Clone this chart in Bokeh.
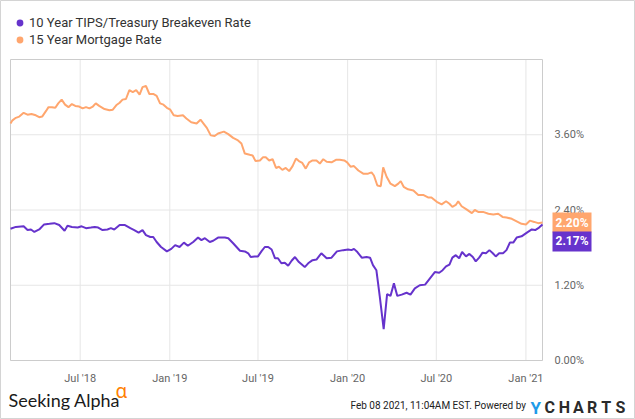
import pandas as pd
from bokeh.plotting import figure
from bokeh.models import (FixedTicker, PrintfTickFormatter, DatetimeTickFormatter,
                          Legend, LegendItem, Label, Range1d)
from bokeh.embed import file_html
from bokeh.resources import INLINE

# ---------------- data ----------------
mortgage_dates = [
    "2018-02-08", "2018-02-12", "2018-02-19", "2018-02-26", "2018-03-07", "2018-03-15",
    "2018-03-23", "2018-04-01", "2018-04-08", "2018-04-14", "2018-04-22", "2018-04-27",
    "2018-05-04", "2018-05-11", "2018-05-17", "2018-05-24", "2018-05-31", "2018-06-07",
    "2018-06-14", "2018-06-21", "2018-06-29", "2018-07-06", "2018-07-13", "2018-07-20",
    "2018-07-27", "2018-08-02", "2018-08-09", "2018-08-20", "2018-08-30", "2018-09-06",
    "2018-09-13", "2018-09-20", "2018-09-26", "2018-10-03", "2018-10-10", "2018-10-17",
    "2018-10-24", "2018-10-31", "2018-11-06", "2018-11-13", "2018-11-20", "2018-11-28",
    "2018-12-05", "2018-12-12", "2018-12-19", "2018-12-26", "2019-01-02", "2019-01-09",
    "2019-01-17", "2019-01-28", "2019-02-04", "2019-02-14", "2019-02-25", "2019-03-05",
    "2019-03-12", "2019-03-18", "2019-03-26", "2019-04-03", "2019-04-10", "2019-04-22",
    "2019-05-01", "2019-05-11", "2019-05-21", "2019-05-28", "2019-06-04", "2019-06-14",
    "2019-06-20", "2019-06-26", "2019-07-05", "2019-07-11", "2019-07-17", "2019-07-24",
    "2019-07-31", "2019-08-07", "2019-08-13", "2019-08-20", "2019-08-27", "2019-09-03",
    "2019-09-10", "2019-09-17", "2019-09-23", "2019-09-30", "2019-10-07", "2019-10-14",
    "2019-10-21", "2019-10-29", "2019-11-05", "2019-11-12", "2019-11-19", "2019-11-29",
    "2019-12-08", "2019-12-16", "2019-12-25", "2019-12-31", "2020-01-07", "2020-01-14",
    "2020-01-23", "2020-02-02", "2020-02-12", "2020-02-19", "2020-02-24", "2020-03-02",
    "2020-03-09", "2020-03-14", "2020-03-21", "2020-03-29", "2020-04-07", "2020-04-14",
    "2020-04-19", "2020-04-25", "2020-05-04", "2020-05-15", "2020-05-25", "2020-06-04",
    "2020-06-14", "2020-06-21", "2020-07-02", "2020-07-12", "2020-07-21", "2020-07-28",
    "2020-08-03", "2020-08-10", "2020-08-15", "2020-08-22", "2020-09-01", "2020-09-12",
    "2020-09-18", "2020-09-25", "2020-10-05", "2020-10-16", "2020-10-26", "2020-11-05",
    "2020-11-14", "2020-11-22", "2020-12-03", "2020-12-13", "2020-12-23", "2021-01-01",
    "2021-01-09", "2021-01-18", "2021-01-26", "2021-02-04",
]
mortgage_values = [
    3.78, 3.83, 3.87, 3.89, 3.95, 3.92, 3.93, 3.91, 3.88, 3.89, 3.98, 4.04,
    4.04, 4.03, 4.10, 4.16, 4.08, 4.04, 4.09, 4.06, 4.05, 4.02, 4.04, 4.02,
    4.05, 4.10, 4.06, 4.01, 3.99, 4.00, 4.07, 4.11, 4.16, 4.17, 4.31, 4.28,
    4.31, 4.24, 4.36, 4.38, 4.25, 4.25, 4.22, 4.10, 4.08, 4.03, 4.00, 3.91,
    3.90, 3.91, 3.86, 3.80, 3.78, 3.84, 3.77, 3.71, 3.59, 3.58, 3.62, 3.65,
    3.61, 3.55, 3.51, 3.46, 3.30, 3.28, 3.27, 3.18, 3.19, 3.24, 3.24, 3.19,
    3.21, 3.07, 3.09, 3.04, 3.07, 3.02, 3.10, 3.22, 3.18, 3.15, 3.06, 3.16,
    3.19, 3.19, 3.14, 3.21, 3.17, 3.16, 3.20, 3.20, 3.19, 3.16, 3.09, 3.10,
    3.03, 2.98, 2.98, 3.00, 2.95, 2.79, 2.78, 3.08, 2.93, 2.82, 2.78, 2.82,
    2.86, 2.77, 2.73, 2.71, 2.64, 2.64, 2.60, 2.60, 2.53, 2.49, 2.54, 2.50,
    2.45, 2.48, 2.54, 2.46, 2.41, 2.35, 2.40, 2.37, 2.37, 2.34, 2.33, 2.34,
    2.29, 2.28, 2.26, 2.22, 2.18, 2.17, 2.23, 2.21, 2.19, 2.20,
]

breakeven_dates = [
    "2018-02-08", "2018-02-19", "2018-03-07", "2018-03-15", "2018-03-22", "2018-03-29",
    "2018-04-08", "2018-04-18", "2018-04-29", "2018-05-09", "2018-05-19", "2018-05-30",
    "2018-06-05", "2018-06-14", "2018-06-26", "2018-07-04", "2018-07-13", "2018-07-23",
    "2018-07-31", "2018-08-07", "2018-08-16", "2018-08-26", "2018-09-02", "2018-09-09",
    "2018-09-20", "2018-10-01", "2018-10-12", "2018-10-20", "2018-10-29", "2018-11-06",
    "2018-11-13", "2018-11-22", "2018-11-28", "2018-12-05", "2018-12-14", "2018-12-26",
    "2019-01-04", "2019-01-12", "2019-01-21", "2019-01-30", "2019-02-07", "2019-02-18",
    "2019-02-28", "2019-03-07", "2019-03-14", "2019-03-24", "2019-03-31", "2019-04-10",
    "2019-04-24", "2019-05-01", "2019-05-11", "2019-05-25", "2019-06-04", "2019-06-11",
    "2019-06-16", "2019-06-24", "2019-07-01", "2019-07-08", "2019-07-15", "2019-07-22",
    "2019-07-29", "2019-08-05", "2019-08-11", "2019-08-18", "2019-08-25", "2019-09-01",
    "2019-09-08", "2019-09-15", "2019-09-23", "2019-10-05", "2019-10-12", "2019-10-21",
    "2019-10-29", "2019-11-08", "2019-11-19", "2019-11-29", "2019-12-10", "2019-12-23",
    "2020-01-02", "2020-01-09", "2020-01-14", "2020-01-21", "2020-01-30", "2020-02-09",
    "2020-02-16", "2020-02-22", "2020-02-29", "2020-03-07", "2020-03-15", "2020-03-22",
    "2020-03-29", "2020-04-05", "2020-04-12", "2020-04-21", "2020-05-01", "2020-05-09",
    "2020-05-18", "2020-05-28", "2020-06-08", "2020-06-18", "2020-06-28", "2020-07-07",
    "2020-07-14", "2020-07-21", "2020-07-28", "2020-08-03", "2020-08-10", "2020-08-17",
    "2020-08-23", "2020-08-31", "2020-09-07", "2020-09-14", "2020-09-20", "2020-09-27",
    "2020-10-04", "2020-10-11", "2020-10-18", "2020-10-25", "2020-10-31", "2020-11-07",
    "2020-11-15", "2020-11-22", "2020-11-29", "2020-12-06", "2020-12-13", "2020-12-23",
    "2021-01-03", "2021-01-13", "2021-01-20", "2021-01-28", "2021-02-04",
]
breakeven_values = [
    2.10, 2.13, 2.14, 2.08, 2.09, 2.05, 2.09, 2.17, 2.18, 2.19, 2.16, 2.07,
    2.15, 2.13, 2.12, 2.14, 2.11, 2.12, 2.13, 2.12, 2.08, 2.09, 2.11, 2.09,
    2.16, 2.16, 2.11, 2.08, 2.04, 2.08, 2.00, 1.97, 1.97, 1.89, 1.81, 1.74,
    1.78, 1.84, 1.81, 1.88, 1.83, 1.89, 1.96, 1.92, 1.95, 1.89, 1.91, 1.96,
    1.96, 1.95, 1.87, 1.75, 1.74, 1.71, 1.65, 1.66, 1.66, 1.74, 1.81, 1.81,
    1.77, 1.63, 1.63, 1.55, 1.56, 1.51, 1.59, 1.65, 1.57, 1.49, 1.55, 1.60,
    1.61, 1.71, 1.63, 1.64, 1.74, 1.76, 1.77, 1.76, 1.78, 1.73, 1.64, 1.65,
    1.64, 1.52, 1.44, 1.02, 0.50, 1.06, 1.03, 1.23, 1.03, 1.05, 1.08, 1.05,
    1.15, 1.20, 1.21, 1.31, 1.41, 1.40, 1.44, 1.50, 1.53, 1.64, 1.68, 1.63,
    1.73, 1.66, 1.70, 1.65, 1.58, 1.64, 1.72, 1.71, 1.76, 1.71, 1.66, 1.71,
    1.71, 1.76, 1.88, 1.88, 1.96, 1.98, 2.04, 2.09, 2.08, 2.12, 2.17,
]

series_names = ["10 Year TIPS/Treasury Breakeven Rate", "15 Year Mortgage Rate"]
x_tick_dates = ["2018-07-01", "2019-01-01", "2019-07-01", "2020-01-01", "2020-07-01", "2021-01-01"]
y_ticks = [0.0, 1.2, 2.4, 3.6]
y_max = 4.8
footer_text = "Feb 08 2021, 11:04AM EST.  Powered by"

# ---------------- layout / styling ----------------
W, H = 635, 419
BOX_L, BOX_R, BOX_T, BOX_B = 10, 542, 59, 360   # pixel box of the plot area
PURPLE = "#6633cc"
ORANGE = "#ffa66e"
GRID = "#e6e6e6"
AXIS_TEXT = "#666666"

m_dates = pd.to_datetime(mortgage_dates)
b_dates = pd.to_datetime(breakeven_dates)
t0, t1 = m_dates[0], m_dates[-1]
span = t1 - t0
x_start = t0 - span * (BOX_L / (BOX_R - BOX_L))
x_end = t1 + span * ((W - BOX_R) / (BOX_R - BOX_L))
y_start = -y_max * (H - BOX_B) / (BOX_B - BOX_T)
y_end = y_max + y_max * BOX_T / (BOX_B - BOX_T)

p = figure(width=W, height=H, x_axis_type="datetime", y_axis_location="right",
           output_backend="svg", toolbar_location=None,
           x_range=Range1d(x_start, x_end), y_range=Range1d(y_start, y_end),
           min_border=0, min_border_left=0, min_border_right=0,
           min_border_top=0, min_border_bottom=0)
p.outline_line_color = "#d4d4d4"
p.background_fill_color = "white"
p.border_fill_color = "white"
p.grid.visible = False

tick_ms = [pd.Timestamp(d).value / 1e6 for d in x_tick_dates]
p.xaxis.ticker = FixedTicker(ticks=tick_ms)
fmt = "%b '%y"
p.xaxis.formatter = DatetimeTickFormatter(months=fmt, days=fmt, years=fmt, hours=fmt,
                                          minutes=fmt, seconds=fmt, milliseconds=fmt,
                                          microseconds=fmt, minsec=fmt, hourmin=fmt)
p.yaxis.ticker = FixedTicker(ticks=y_ticks)
p.yaxis.formatter = PrintfTickFormatter(format="%.2f%%")
p.xaxis.fixed_location = 0
p.yaxis.fixed_location = t1.value / 1e6

for ax in (p.xaxis[0], p.yaxis[0]):
    ax.axis_line_color = None
    ax.major_tick_line_color = None
    ax.minor_tick_line_color = None
    ax.major_label_text_font = "Roboto"
    ax.major_label_text_font_size = "11px"
    ax.major_label_text_color = AXIS_TEXT
p.xaxis.major_label_standoff = 5
p.yaxis.major_label_standoff = 6

# grid lines limited to the plot box (from the tick arrays)
tick_dates = pd.to_datetime(x_tick_dates)
p.segment(x0=tick_dates, y0=[0] * len(tick_dates), x1=tick_dates, y1=[y_max] * len(tick_dates),
          line_color=GRID, line_width=1)
p.segment(x0=[t0] * len(y_ticks), y0=y_ticks, x1=[t1] * len(y_ticks), y1=y_ticks,
          line_color=GRID, line_width=1)
# plot box border
p.quad(left=[t0], right=[t1], bottom=[0], top=[y_max], fill_color=None,
       line_color="#cccccc", line_width=1)

# lines
p.line(m_dates, mortgage_values, line_color=ORANGE, line_width=2)
p.line(b_dates, breakeven_values, line_color=PURPLE, line_width=2)

# legend swatches: zero-size markers on each series' last point (invisible on the chart,
# the legend draws its own circle)
r_b = p.scatter(x=[b_dates[-1]], y=[breakeven_values[-1]], marker="circle", size=0,
                fill_color=PURPLE, line_color=None)
r_m = p.scatter(x=[t1], y=[mortgage_values[-1]], marker="circle", size=0,
                fill_color=ORANGE, line_color=None)
legend = Legend(items=[LegendItem(label=series_names[0], renderers=[r_b]),
                       LegendItem(label=series_names[1], renderers=[r_m])],
                location=(11, H - 14 - 34), orientation="vertical",
                border_line_color=None, background_fill_alpha=0,
                padding=0, spacing=0, margin=0,
                glyph_width=17, glyph_height=17, label_height=17, label_standoff=1,
                label_text_font="Roboto", label_text_font_size="13px",
                label_text_color="#333333", label_text_baseline="middle")
p.add_layout(legend)

# end-value tags: a rotated square gives the arrow tip, the text box sits right of it
def add_tag(x, y, txt, color, y_off):
    p.add_layout(Label(x=x, y=y, x_offset=7, y_offset=y_off, text=".", text_alpha=0,
                       text_font_size="1px", text_align="center", text_baseline="middle",
                       background_fill_color=color, padding=6, angle=45, angle_units="deg"))
    p.add_layout(Label(x=x, y=y, x_offset=10, y_offset=y_off, text=txt, text_color="white",
                       text_font="Roboto", text_font_style="bold", text_font_size="12px",
                       text_align="left", text_baseline="middle",
                       background_fill_color=color, padding=3))

add_tag(t1, mortgage_values[-1], f"{mortgage_values[-1]:.2f}%", ORANGE, 0)
add_tag(b_dates[-1], breakeven_values[-1], f"{breakeven_values[-1]:.2f}%", PURPLE, -17)

# footer (screen units from the bottom-left corner)
p.add_layout(Label(x=8, y=H - 399, x_units="screen", y_units="screen", text="Seeking Alpha",
                   text_font="Lato", text_font_size="18px", text_color="#1a1a1a",
                   text_baseline="alphabetic"))
p.add_layout(Label(x=115, y=H - 390, x_units="screen", y_units="screen", text="\u03b1",
                   text_font="Noto Sans", text_font_size="19px", text_color="#ff8000",
                   text_baseline="alphabetic"))
p.add_layout(Label(x=528, y=H - 405, x_units="screen", y_units="screen", text=footer_text,
                   text_font="Roboto", text_font_size="10px", text_color="#222222",
                   text_align="right", text_baseline="alphabetic"))
p.add_layout(Label(x=530, y=H - 407, x_units="screen", y_units="screen", text="Y",
                   text_font="Roboto", text_font_style="bold", text_font_size="17px",
                   text_color="#1e9be9", text_baseline="alphabetic"))
for i, ch in enumerate("CHARTS"):
    p.add_layout(Label(x=544 + i * 14.2, y=H - 407, x_units="screen", y_units="screen", text=ch,
                       text_font="Roboto", text_font_style="bold", text_font_size="16px",
                       text_color="#2b2b2b", text_baseline="alphabetic"))

open("out.html", "w").write(file_html(p, INLINE))
